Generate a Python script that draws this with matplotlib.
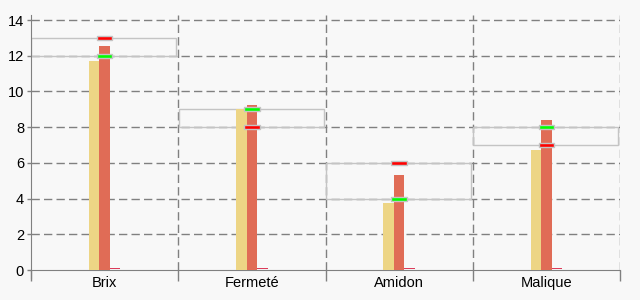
import matplotlib
matplotlib.use("Agg")
import matplotlib.pyplot as plt
from matplotlib.patches import Rectangle
import numpy as np

categories = ["Brix", "Fermeté", "Amidon", "Malique"]
serie_a = [11.7, 9.0, 3.75, 6.72]      # yellow bars
serie_b = [12.54, 9.24, 5.34, 8.4]     # red bars
serie_c = [0.07, 0.07, 0.07, 0.07]     # near-zero bars
range_low = [12, 8, 4, 7]
range_high = [13, 9, 6, 8]
marker_green = [12, 9, 4, 8]
marker_red = [13, 8, 6, 7]
y_ticks = [0, 2, 4, 6, 8, 10, 12, 14]

BG = "#f8f8f8"
GRID = "#808080"

plt.rcParams["font.family"] = ["Liberation Sans", "DejaVu Sans"]

fig = plt.figure(figsize=(6.4, 3.0), dpi=100, facecolor=BG)
ax = fig.add_axes([31 / 640, 30 / 300, 589 / 640, 255 / 300])
ax.set_facecolor(BG)

n = len(categories)
centers = np.arange(n) + 0.5
w = 0.0713

ax.bar(centers - w, serie_a, width=w, color="#edd585", zorder=3)
ax.bar(centers, serie_b, width=w, color="#e06c56", zorder=3)
ax.bar(centers + w, serie_c, width=w, bottom=0.03, color="#dc3c5a", zorder=6)

# range boxes
for i in range(n):
    ax.add_patch(Rectangle((i + 0.003, range_low[i]), 0.985, range_high[i] - range_low[i],
                           fill=False, edgecolor="#c4c4c4", linewidth=1.0, zorder=2))

# target markers
mw = 0.105
mh = 0.22
for i in range(n):
    for val, col in ((marker_green[i], "#00ff00"), (marker_red[i], "#ff0000")):
        ax.add_patch(Rectangle((centers[i] - mw / 2, val - mh / 2), mw, mh,
                               facecolor=col, edgecolor="#c4c4c4", linewidth=1.0, zorder=4))

ax.set_xlim(0, n)
ax.set_ylim(0, 14.28)
ax.set_yticks(y_ticks)
ax.set_yticklabels([str(t) for t in y_ticks], fontsize=10.5)

# horizontal grid
for t in y_ticks[1:]:
    ax.axhline(t, color=GRID, linestyle=(0, (6, 3)), linewidth=1.0, zorder=1)
# vertical category separators
for x in range(1, n + 1):
    ax.axvline(x, color=GRID, linestyle=(0, (6, 3)), linewidth=1.0, zorder=1)

ax.set_xticks(range(0, n + 1))
ax.set_xticklabels([""] * (n + 1))
ax.set_xticks(centers, minor=True)
ax.set_xticklabels(categories, minor=True, fontsize=10.5)
ax.tick_params(axis="x", which="major", length=8, color=GRID, width=1)
ax.tick_params(axis="x", which="minor", length=0, pad=4)
ax.tick_params(axis="y", length=3, color=GRID, width=1, pad=2)

for s in ("top", "right"):
    ax.spines[s].set_visible(False)
ax.spines["left"].set_color(GRID)
ax.spines["bottom"].set_color(GRID)
ax.spines["left"].set_bounds(-0.45, 14.28)

fig.savefig("out.png", dpi=100, facecolor=BG)
